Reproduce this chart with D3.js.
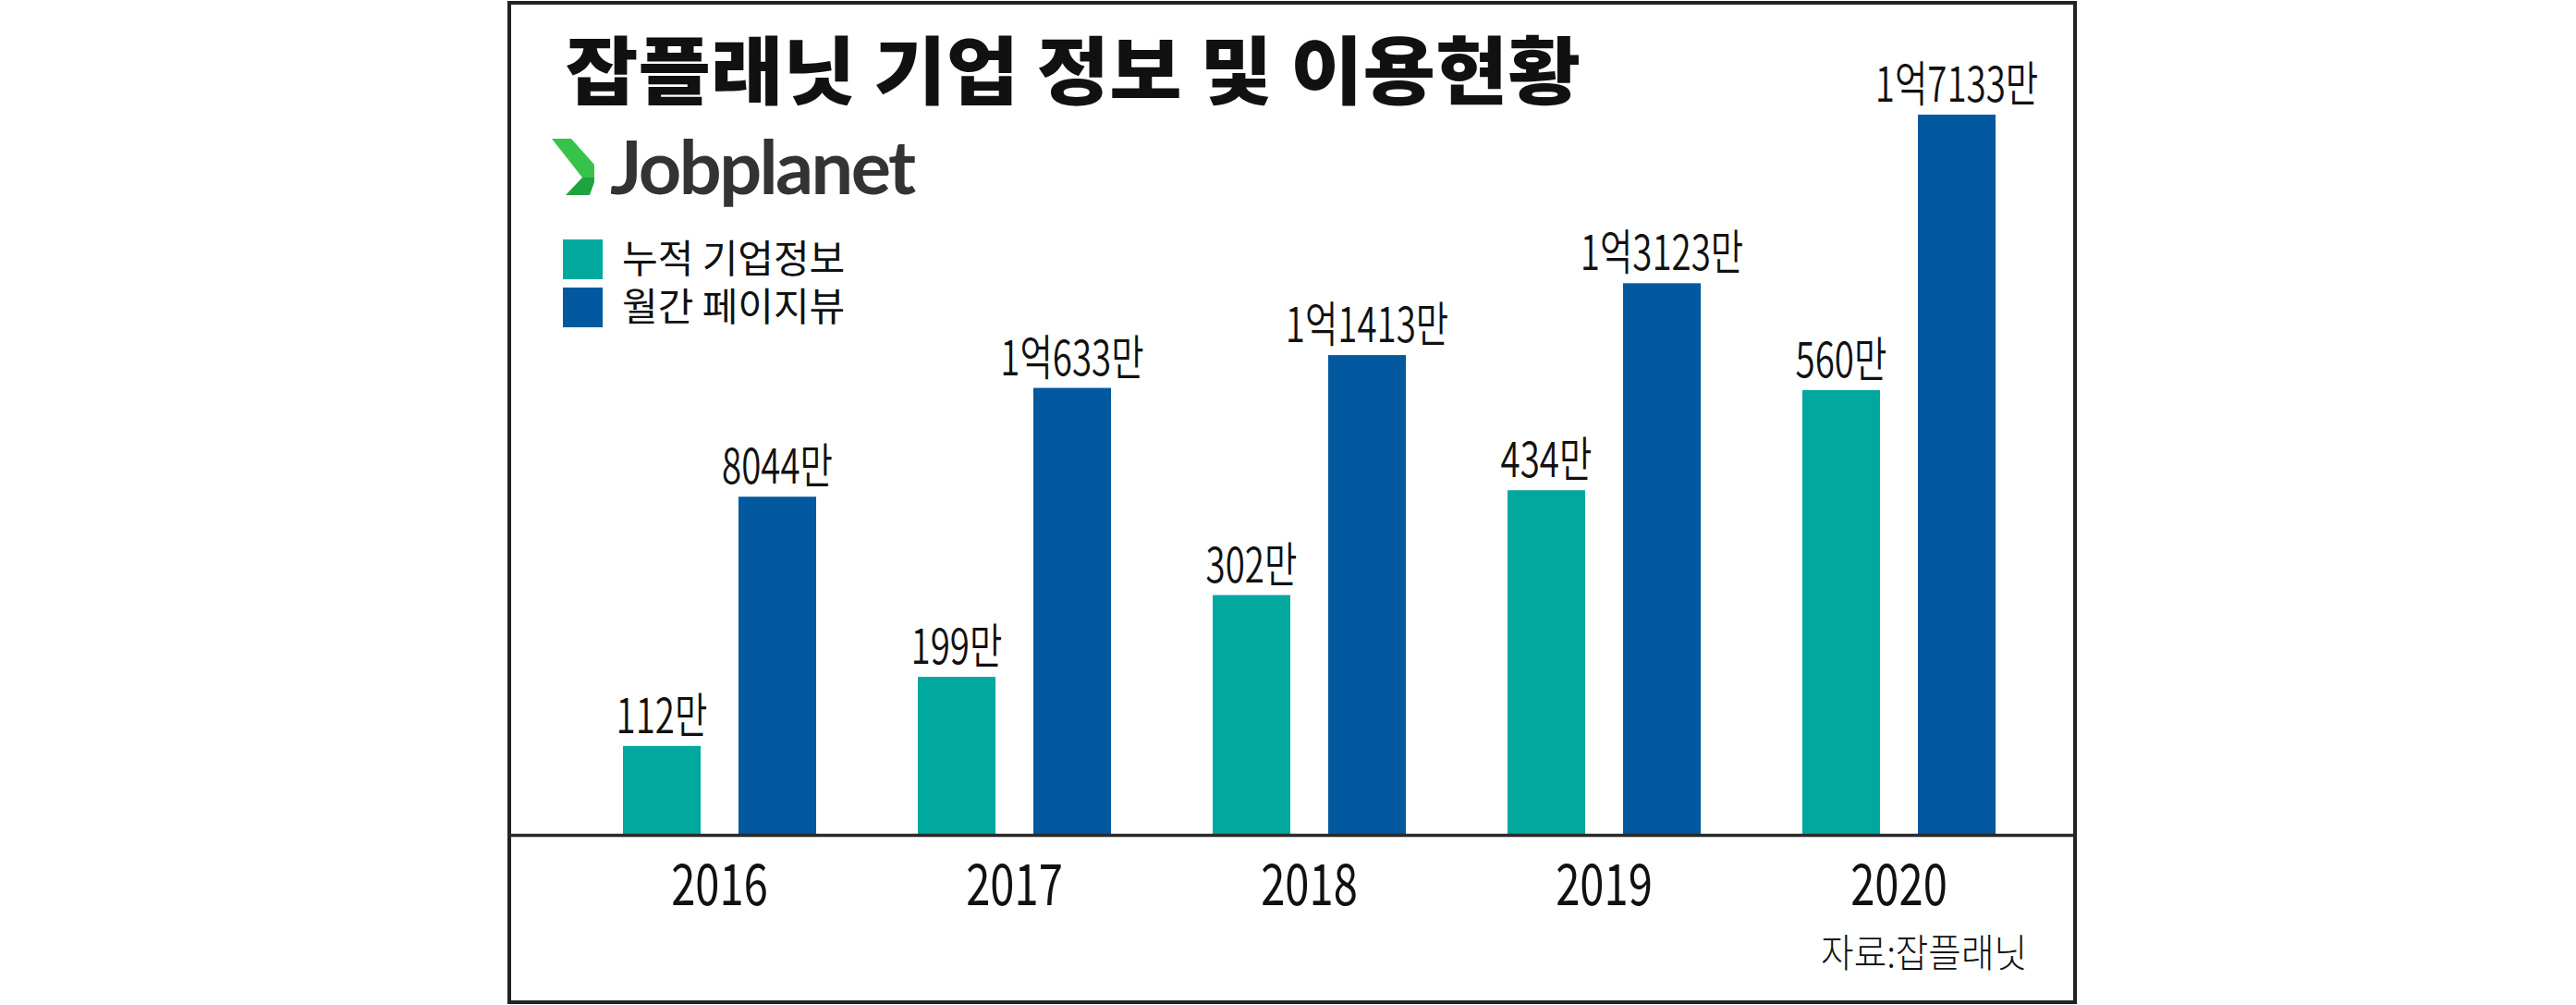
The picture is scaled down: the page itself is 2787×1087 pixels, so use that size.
<!DOCTYPE html>
<html>
<head>
  <meta charset="utf-8">
  <title>잡플래닛 기업 정보 및 이용현황</title>
  <script src="https://d3js.org/d3.v7.min.js"></script>
  <style>
    body { margin: 0; background: #fff; }
    svg { display: block; }
    text { font-family: "Noto Sans CJK KR", "Noto Sans", sans-serif; fill: #111; }
    .title { font-size: 80px; font-weight: 900; }
    .logo { font-family: Lato, "Noto Sans", sans-serif; font-size: 81px; font-weight: 700; fill: #333; letter-spacing: -2.6px; }
    .legend text { font-size: 42px; font-weight: 400; }
    .value { font-size: 52px; font-weight: 350; }
    .axis text { font-size: 62px; font-weight: 400; fill: #111; }
    .source { font-size: 42px; font-weight: 300; }
  </style>
</head>
<body>
  <script>
    // values in 만 (10,000) units
    const years = ["2016", "2017", "2018", "2019", "2020"];
    const corpInfo = [112, 199, 302, 434, 560];          // 누적 기업정보
    const pageViews = [8044, 10633, 11413, 13123, 17133]; // 월간 페이지뷰
    const seriesNames = ["누적 기업정보", "월간 페이지뷰"];
    const colors = ["#00a89d", "#02599f"];

    const width = 2787;
    const height = 1087;
    const baseY = 903;
    const condensed = 0.74;

    const svg = d3.select("body").append("svg")
      .attr("width", width)
      .attr("height", height);

    // frame
    svg.append("rect")
      .attr("x", 551).attr("y", 3)
      .attr("width", 1694).attr("height", 1081)
      .attr("fill", "none")
      .attr("stroke", "#222")
      .attr("stroke-width", 4);

    // title
    svg.append("text")
      .attr("class", "title")
      .attr("transform", "translate(612,106) scale(1.066,1)")
      .text("잡플래닛 기업 정보 및 이용현황");

    // logo
    const logo = svg.append("g");
    logo.append("path")
      .attr("d", "M597,150 L618,150 L643,178 L643,192 L630,192 Z")
      .attr("fill", "#37c24b");
    logo.append("path")
      .attr("d", "M630,192 L643,192 L643,197 L638,211 L612,211 Z")
      .attr("fill", "#1fa33f");
    logo.append("text")
      .attr("class", "logo")
      .attr("x", 660).attr("y", 210)
      .text("Jobplanet");

    // legend
    const legend = svg.append("g").attr("class", "legend");
    const legendItem = legend.selectAll("g")
      .data(seriesNames)
      .join("g")
      .attr("transform", (d, i) => `translate(609,${259 + i * 52})`);
    legendItem.append("rect")
      .attr("width", 43).attr("height", 43)
      .attr("fill", (d, i) => colors[i]);
    legendItem.append("text")
      .attr("x", 64).attr("y", 36)
      .text(d => d);

    // scales
    const x0 = d3.scaleBand().domain(years).range([619, 2214]);
    const x1 = d3.scaleBand().domain([0, 1]).range([55, 264]).paddingInner(0.328);
    const yCorp = d3.scaleLinear().domain([0, d3.max(corpInfo)]).range([baseY, 422]);
    const yView = d3.scaleLinear().domain([0, d3.max(pageViews)]).range([baseY, 124]);

    const fmt = v => v >= 10000 ? `${Math.floor(v / 10000)}억${v % 10000}만` : `${v}만`;

    const rows = years.map((yr, i) => [
      { year: yr, s: 0, v: corpInfo[i], y: yCorp },
      { year: yr, s: 1, v: pageViews[i], y: yView }
    ]);

    const group = svg.append("g").selectAll("g")
      .data(rows)
      .join("g")
      .attr("transform", d => `translate(${x0(d[0].year)},0)`);

    group.selectAll("rect")
      .data(d => d)
      .join("rect")
      .attr("x", d => x1(d.s))
      .attr("y", d => d.y(d.v))
      .attr("width", x1.bandwidth())
      .attr("height", d => baseY - d.y(d.v))
      .attr("fill", d => colors[d.s]);

    group.selectAll("text")
      .data(d => d)
      .join("text")
      .attr("class", "value")
      .attr("text-anchor", "middle")
      .attr("transform", d => `translate(${x1(d.s) + x1.bandwidth() / 2},${d.y(d.v) - 14}) scale(${condensed},1)`)
      .text(d => fmt(d.v));

    // baseline
    svg.append("line")
      .attr("x1", 551).attr("x2", 2245)
      .attr("y1", baseY + 0.5).attr("y2", baseY + 0.5)
      .attr("stroke", "#2a2a2a")
      .attr("stroke-width", 3.5);

    // x axis labels
    const axis = svg.append("g")
      .attr("class", "axis")
      .attr("transform", `translate(0,${baseY})`)
      .call(d3.axisBottom(x0).tickSize(0));
    axis.select(".domain").remove();
    axis.selectAll("text")
      .attr("y", 0).attr("dy", null)
      .attr("transform", `translate(0,76) scale(${condensed + 0.02},1)`);

    // source
    svg.append("text")
      .attr("class", "source")
      .attr("text-anchor", "end")
      .attr("transform", "translate(2193,1046) scale(0.92,1)")
      .text("자료:잡플래닛");
  </script>
</body>
</html>
